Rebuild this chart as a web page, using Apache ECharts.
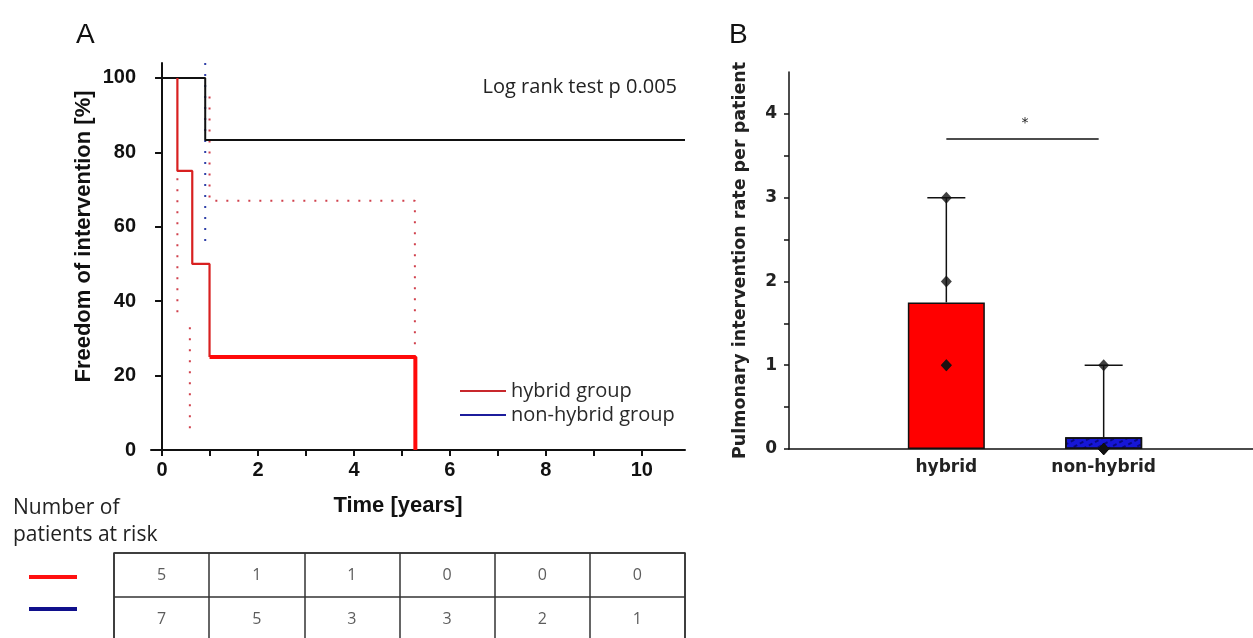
<!DOCTYPE html>
<html>
<head>
<meta charset="utf-8">
<script src="https://cdn.jsdelivr.net/npm/echarts@6/dist/echarts.min.js"></script>
<style>html,body{margin:0;padding:0;background:#fff;}#c{width:1253px;height:638px;}</style>
</head>
<body>
<div id="c"></div>
<script>
// ---------- Panel A: Kaplan-Meier ----------
const timeLabelTicks = [0, 2, 4, 6, 8, 10];
const timeTicks = [0, 1, 2, 3, 4, 5, 6, 7, 8, 9, 10];
const pctTicks = [0, 20, 40, 60, 80, 100];
const hybridKM = [[0.32, 100], [0.32, 75], [0.63, 75], [0.63, 50], [0.99, 50], [0.99, 25]];
const hybridKMTail = [[0.99, 25], [5.28, 25], [5.28, 0]];
const nonHybridKM = [[0, 100], [0.9, 100], [0.9, 83.3], [10.9, 83.3]];
const hybridCI = [[0.32, 73], [0.32, 36], [0.45, '-'], [0.58, 33], [0.58, 5], [0.8, '-'], [0.99, 95], [0.99, 67], [5.27, 67], [5.27, 28]];
const nonHybridCI = [[0.9, 104], [0.9, 55]];
const logRankText = 'Log rank test p 0.005';

// ---------- Numbers at risk ----------
const riskTimes = ['0', '2', '4', '6', '8', '10'];
const riskGroups = ['hybrid group', 'non-hybrid group'];
const riskHybrid = [5, 1, 1, 0, 0, 0];
const riskNonHybrid = [7, 5, 3, 3, 2, 1];

// ---------- Panel B: bar chart ----------
const barCats = ['', 'hybrid', 'non-hybrid', ''];
const barGroups = ['hybrid', 'non-hybrid'];
const barMeans = [1.75, 0.14];
const barUpper = [3, 1];
const hybridPoints = [3, 2, 1, 1];
const nonHybridPoints = [1, 0, 0, 0, 0, 0, 0];
const rateTicks = [0, 1, 2, 3, 4];
const rateMinorTicks = [0, 0.5, 1, 1.5, 2, 2.5, 3, 3.5, 4];
const sigLevel = 3.7;
const sigMark = '*';

const chart = echarts.init(document.getElementById('c'), null, {renderer: 'canvas'});

const boldA = {fontFamily: 'Liberation Sans', fontWeight: 'bold', color: '#111'};
const boldB = {fontFamily: 'DejaVu Sans', fontWeight: 'bold', color: '#222'};
const calib = {fontFamily: 'Open Sans', color: '#222'};

const option = {
  backgroundColor: '#fff',
  animation: false,
  title: [
    {text: 'A', left: 71, top: 16, textStyle: {fontFamily: 'Liberation Sans', fontWeight: 'normal', fontSize: 28, color: '#111'}},
    {text: 'B', left: 724, top: 16, textStyle: {fontFamily: 'Liberation Sans', fontWeight: 'normal', fontSize: 28, color: '#111'}},
    {text: logRankText, right: 571, top: 72, textStyle: Object.assign({fontSize: 20, fontWeight: 'normal'}, calib)},
    {text: 'Number of\npatients at risk', left: 8, top: 490, textStyle: Object.assign({fontSize: 21, fontWeight: 'normal', lineHeight: 27}, calib)}
  ],
  legend: {
    show: true,
    selectedMode: false,
    orient: 'vertical',
    left: 455,
    top: 376,
    icon: 'rect',
    itemWidth: 46,
    itemHeight: 2,
    itemGap: 4,
    textStyle: {fontFamily: 'Open Sans', fontSize: 20, color: '#2a2a2a'},
    data: [
      {name: riskGroups[0], itemStyle: {color: '#c8282c'}},
      {name: riskGroups[1], itemStyle: {color: '#1c1c9c'}}
    ]
  },
  grid: [
    {left: 151, top: 63, width: 534, height: 387, outerBoundsMode: 'none'},
    {left: 789, top: 72, width: 472, height: 377, outerBoundsMode: 'none'},
    {left: 114, top: 553, width: 571, height: 88, outerBoundsMode: 'none', show: true, borderColor: '#333', borderWidth: 1.5, backgroundColor: 'transparent'}
  ],
  xAxis: [
    {
      gridIndex: 0, type: 'value', min: -0.23, max: 10.9,
      axisLine: {show: true, onZero: false, lineStyle: {color: '#111', width: 2}},
      axisTick: {show: true, customValues: timeTicks, length: 6, lineStyle: {color: '#111', width: 2}},
      axisLabel: Object.assign({customValues: timeLabelTicks, fontSize: 20, margin: 10}, boldA),
      splitLine: {show: false},
      name: 'Time [years]', nameLocation: 'middle', nameGap: 45,
      nameTextStyle: Object.assign({fontSize: 22, padding: [0, 40, 0, 0]}, boldA)
    },
    {
      gridIndex: 1, type: 'category', data: barCats, boundaryGap: false,
      axisLine: {show: true, lineStyle: {color: '#111', width: 1.5}},
      axisTick: {show: false},
      axisLabel: Object.assign({fontSize: 17, margin: 10, interval: 0}, boldB),
      splitLine: {show: false}
    },
    {
      gridIndex: 2, type: 'category', data: riskTimes,
      axisLine: {show: false}, axisTick: {show: false}, axisLabel: {show: false},
      splitLine: {show: true, lineStyle: {color: '#333', width: 1.5}}
    }
  ],
  yAxis: [
    {
      gridIndex: 0, type: 'value', min: 0, max: 104,
      axisLine: {show: true, lineStyle: {color: '#111', width: 2}},
      axisTick: {show: true, customValues: pctTicks, length: 7, lineStyle: {color: '#111', width: 2}},
      axisLabel: Object.assign({customValues: pctTicks, fontSize: 20, margin: 15}, boldA),
      splitLine: {show: false},
      name: 'Freedom of intervention [%]', nameLocation: 'middle', nameGap: 56,
      nameTextStyle: Object.assign({fontSize: 22, padding: [0, 0, 0, 40]}, boldA)
    },
    {
      gridIndex: 1, type: 'value', min: 0, max: 4.5,
      axisLine: {show: true, lineStyle: {color: '#111', width: 1.5}},
      axisTick: {show: true, customValues: rateMinorTicks, length: 5, lineStyle: {color: '#111', width: 1.5}},
      axisLabel: Object.assign({customValues: rateTicks, fontSize: 17, margin: 12}, boldB),
      splitLine: {show: false},
      name: 'Pulmonary intervention rate per patient', nameLocation: 'middle', nameGap: 40,
      nameTextStyle: Object.assign({fontSize: 17.5}, boldB)
    },
    {
      gridIndex: 2, type: 'category', data: riskGroups, inverse: true,
      axisLine: {show: false}, axisTick: {show: false}, axisLabel: {show: false},
      splitLine: {show: true, lineStyle: {color: '#333', width: 1.5}}
    }
  ],
  graphic: [
    {type: 'rect', shape: {x: 29, y: 575, width: 48, height: 4}, style: {fill: '#ff1010'}},
    {type: 'rect', shape: {x: 29, y: 607, width: 48, height: 4}, style: {fill: '#10108c'}}
  ],
  series: [
    // CI dotted lines
    {type: 'line', name: 'hybrid CI', xAxisIndex: 0, yAxisIndex: 0, data: hybridCI, showSymbol: false, silent: true,
     lineStyle: {color: '#d0404c', width: 2, type: [2, 9]}, connectNulls: false},
    {type: 'line', name: 'non-hybrid CI', xAxisIndex: 0, yAxisIndex: 0, data: nonHybridCI, showSymbol: false, silent: true,
     lineStyle: {color: '#3040a8', width: 2, type: [2, 9]}},
    // KM curves
    {type: 'line', name: riskGroups[1], xAxisIndex: 0, yAxisIndex: 0, data: nonHybridKM, showSymbol: false,
     itemStyle: {color: '#1c1c9c'}, lineStyle: {color: '#111', width: 2}, z: 3},
    {type: 'line', name: riskGroups[0], xAxisIndex: 0, yAxisIndex: 0, data: hybridKM, showSymbol: false,
     itemStyle: {color: '#c8282c'}, lineStyle: {color: '#d82020', width: 2.2}, z: 4},
    {type: 'line', name: riskGroups[0], xAxisIndex: 0, yAxisIndex: 0, data: hybridKMTail, showSymbol: false,
     itemStyle: {color: '#c8282c'}, lineStyle: {color: '#ff0a0a', width: 4}, z: 4},
    // numbers at risk table
    {type: 'scatter', xAxisIndex: 2, yAxisIndex: 2, symbolSize: 1, itemStyle: {color: 'rgba(0,0,0,0)'}, silent: true,
     data: riskHybrid.map((v, i) => [i, 0, v]).concat(riskNonHybrid.map((v, i) => [i, 1, v])),
     label: {show: true, position: 'inside', formatter: p => String(p.value[2]), fontFamily: 'Open Sans', fontSize: 16, color: '#333'}},
    // Panel B bars
    {type: 'bar', xAxisIndex: 1, yAxisIndex: 1, barWidth: 77, silent: true,
     data: [
       {value: [barGroups[0], barMeans[0]], itemStyle: {color: '#ff0000', borderColor: '#111', borderWidth: 1.5}},
       {value: [barGroups[1], barMeans[1]], itemStyle: {color: '#1616d6', borderColor: '#111', borderWidth: 1.5,
         decal: {color: 'rgba(0,0,70,0.6)', symbol: 'rect', dashArrayX: [[4, 3]], dashArrayY: [2, 4], rotation: -0.5, symbolSize: 1}}}
     ]},
    // error bars
    {type: 'custom', xAxisIndex: 1, yAxisIndex: 1, silent: true, z: 5,
     data: barGroups.map((g, i) => [barCats.indexOf(g), barMeans[i], barUpper[i]]),
     renderItem: function (params, api) {
       const p0 = api.coord([api.value(0), api.value(1)]);
       const p1 = api.coord([api.value(0), api.value(2)]);
       const cap = 19;
       return {type: 'group', children: [
         {type: 'line', shape: {x1: p0[0], y1: p0[1], x2: p1[0], y2: p1[1]}, style: {stroke: '#111', lineWidth: 1.5}},
         {type: 'line', shape: {x1: p1[0] - cap, y1: p1[1], x2: p1[0] + cap, y2: p1[1]}, style: {stroke: '#111', lineWidth: 1.5}}
       ]};
     }},
    // individual points
    {type: 'scatter', xAxisIndex: 1, yAxisIndex: 1, symbol: 'diamond', symbolSize: [11, 12], silent: true, z: 6, clip: true,
     itemStyle: {color: '#111'},
     data: hybridPoints.map(v => [barGroups[0], v]).concat(nonHybridPoints.map(v => [barGroups[1], v]))},
    // significance bracket
    {type: 'custom', xAxisIndex: 1, yAxisIndex: 1, silent: true, z: 5,
     data: [[barCats.indexOf(barGroups[0]), barCats.indexOf(barGroups[1]), sigLevel]],
     renderItem: function (params, api) {
       const a = api.coord([api.value(0), api.value(2)]);
       const b = api.coord([api.value(1), api.value(2)]);
       return {type: 'group', children: [
         {type: 'line', shape: {x1: a[0], y1: a[1], x2: b[0] - 5, y2: b[1]}, style: {stroke: '#111', lineWidth: 1.5}},
         {type: 'text', x: (a[0] + b[0]) / 2, y: a[1] - 16, style: {text: sigMark, fill: '#222', font: '14px DejaVu Sans', align: 'center', verticalAlign: 'middle'}}
       ]};
     }}
  ]
};
chart.setOption(option);
</script>
</body>
</html>
